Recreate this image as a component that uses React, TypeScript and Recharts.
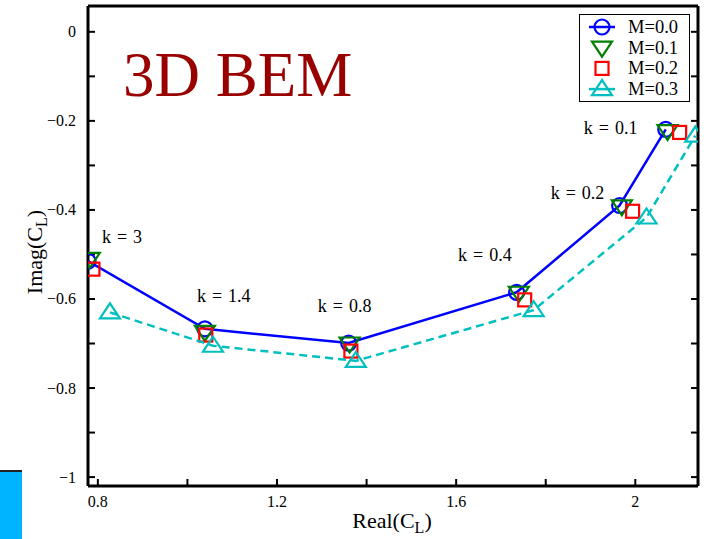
import React from 'react';
import { ComposedChart, Scatter, XAxis, YAxis } from 'recharts';

// ---- data ----
const kValues = ['3', '1.4', '0.8', '0.4', '0.2', '0.1'];
const m00Real = [0.778, 1.039, 1.360, 1.735, 1.965, 2.068];
const m00Imag = [-0.515, -0.667, -0.699, -0.585, -0.390, -0.219];
const m01Real = [0.782, 1.039, 1.362, 1.740, 1.970, 2.072];
const m01Imag = [-0.510, -0.674, -0.700, -0.586, -0.392, -0.223];
const m02Real = [0.789, 1.041, 1.365, 1.753, 1.994, 2.099];
const m02Imag = [-0.533, -0.681, -0.717, -0.602, -0.403, -0.226];
const m03Real = [0.827, 1.057, 1.376, 1.773, 2.025, 2.134];
const m03Imag = [-0.630, -0.705, -0.739, -0.625, -0.417, -0.233];
const kLabelReal = [0.854, 1.081, 1.351, 1.664, 1.871, 1.945];
const kLabelImag = [-0.461, -0.594, -0.616, -0.502, -0.361, -0.215];
const seriesNames = ['M=0.0', 'M=0.1', 'M=0.2', 'M=0.3'];
const xTicks = [0.8, 1.0, 1.2, 1.4, 1.6, 1.8, 2.0];
const yTicks = [0, -0.1, -0.2, -0.3, -0.4, -0.5, -0.6, -0.7, -0.8, -0.9, -1.0];
const xDomain = [0.778, 2.14];
const yDomain = [-1.02, 0.058];

const pts = (xs: number[], ys: number[]) => xs.map((x, i) => ({ x, y: ys[i] }));
const kPts = kLabelReal.map((x, i) => ({ x, y: kLabelImag[i], k: kValues[i] }));

const BLUE = '#0000ff';
const GREEN = '#008000';
const RED = '#ff0000';
const CYAN = '#00bfbf';
const FONT = '"Liberation Serif", "Times New Roman", serif';

const Circle = (color: string) => (p: any) => (
  <circle cx={p.cx} cy={p.cy} r={7.5} fill="none" stroke={color} strokeWidth={2.2} />
);
const DownTri = (color: string) => (p: any) => (
  <polygon
    points={`${p.cx - 10},${p.cy - 6} ${p.cx + 10},${p.cy - 6} ${p.cx},${p.cy + 9}`}
    fill="none" stroke={color} strokeWidth={2.2} />
);
const Square = (color: string) => (p: any) => (
  <rect x={p.cx - 6.5} y={p.cy - 6.5} width={13} height={13} fill="none" stroke={color} strokeWidth={2.2} />
);
const UpTri = (color: string) => (p: any) => (
  <polygon
    points={`${p.cx - 10},${p.cy + 6} ${p.cx + 10},${p.cy + 6} ${p.cx},${p.cy - 9}`}
    fill="none" stroke={color} strokeWidth={2.2} />
);
const KLabel = (p: any) => (
  <text x={p.cx} y={p.cy} textAnchor="middle" dominantBaseline="central"
    fontFamily={FONT} fontSize={18} wordSpacing={1.5} fill="#000">{`k = ${p.payload.k}`}</text>
);

const fmt = (v: number) => {
  const s = Math.abs(v - Math.round(v)) < 1e-9 ? String(Math.round(v)) : v.toFixed(1);
  return s.replace('-', '\u2212');
};

const XTick = (p: any) => {
  const v = p.payload.value;
  if (Math.round(v * 10) % 4 !== 0) return <g />;
  return (
    <text x={p.x} y={p.y} textAnchor="middle" dominantBaseline="central"
      fontFamily={FONT} fontSize={16} fill="#000">{fmt(v)}</text>
  );
};
const YTick = (p: any) => {
  const v = p.payload.value;
  if (Math.round(Math.abs(v) * 10) % 2 !== 0) return <g />;
  return (
    <text x={p.x} y={p.y} textAnchor="end" dominantBaseline="central"
      fontFamily={FONT} fontSize={16} fill="#000">{fmt(v)}</text>
  );
};
const NoTick = () => <g />;

const axisLine = { stroke: '#000', strokeWidth: 3 };
const tickLine = { stroke: '#000', strokeWidth: 2 };

const legendShapes = [Circle(BLUE), DownTri(GREEN), Square(RED), UpTri(CYAN)];
const legendColors = [BLUE, GREEN, RED, CYAN];
const legendHasLine = [true, false, false, true];

export default function App() {
  return (
    <div style={{ position: 'absolute', left: 0, top: 0, width: 707, height: 539, background: '#fff' }}>
      <ComposedChart width={707} height={539} margin={{ top: 5, right: 8, left: 28, bottom: 23 }}>
        <XAxis xAxisId="b" type="number" dataKey="x" domain={xDomain} ticks={xTicks} allowDataOverflow
          height={30} axisLine={axisLine} tickLine={tickLine} tickSize={-7} tickMargin={22} tick={XTick}
          interval={0} />
        <XAxis xAxisId="t" type="number" orientation="top" domain={xDomain} ticks={xTicks} allowDataOverflow
          height={1} axisLine={axisLine} tickLine={tickLine} tickSize={-7} tick={NoTick} interval={0} />
        <YAxis yAxisId="l" type="number" dataKey="y" domain={yDomain} ticks={yTicks} allowDataOverflow
          width={60} axisLine={axisLine} tickLine={tickLine} tickSize={-7} tickMargin={19} tick={YTick}
          interval={0} />
        <YAxis yAxisId="r" type="number" orientation="right" domain={yDomain} ticks={yTicks} allowDataOverflow
          width={1} axisLine={axisLine} tickLine={tickLine} tickSize={-7} tick={NoTick} interval={0} />
        <Scatter xAxisId="b" yAxisId="l" name={seriesNames[0]} data={pts(m00Real, m00Imag)}
          line={{ stroke: BLUE, strokeWidth: 2.5 }} lineType="joint" shape={Circle(BLUE)} isAnimationActive={false} />
        <Scatter xAxisId="b" yAxisId="l" name={seriesNames[1]} data={pts(m01Real, m01Imag)}
          shape={DownTri(GREEN)} isAnimationActive={false} />
        <Scatter xAxisId="b" yAxisId="l" name={seriesNames[2]} data={pts(m02Real, m02Imag)}
          shape={Square(RED)} isAnimationActive={false} />
        <Scatter xAxisId="b" yAxisId="l" name={seriesNames[3]} data={pts(m03Real, m03Imag)}
          line={{ stroke: CYAN, strokeWidth: 2.5, strokeDasharray: '8 5' }} lineType="joint"
          shape={UpTri(CYAN)} isAnimationActive={false} />
        <Scatter xAxisId="b" yAxisId="l" name="k" data={kPts} shape={KLabel} isAnimationActive={false} legendType="none" />
      </ComposedChart>
      <svg width={707} height={539} style={{ position: 'absolute', left: 0, top: 0, pointerEvents: 'none' }}>
        <text x={123} y={96} fontFamily={FONT} fontSize={63} fill="#990000">3D BEM</text>
        <text x={392} y={528} textAnchor="middle" fontFamily={FONT} fontSize={22} fill="#000">
          Real(C<tspan fontSize={16} dy={5}>L</tspan><tspan dy={-5}>)</tspan>
        </text>
        <text transform="translate(42,252) rotate(-90)" textAnchor="middle" fontFamily={FONT} fontSize={22} fill="#000">
          Imag(C<tspan fontSize={16} dy={5}>L</tspan><tspan dy={-5}>)</tspan>
        </text>
        <rect x={579.5} y={14.5} width={110} height={87} fill="#fff" stroke="#000" strokeWidth={1} />
        {seriesNames.map((name, i) => {
          const cy = 27 + i * 20.7;
          const Shape = legendShapes[i];
          return (
            <g key={name}>
              {legendHasLine[i] && (
                <line x1={589} x2={615} y1={cy} y2={cy} stroke={legendColors[i]} strokeWidth={2.5} />
              )}
              <Shape cx={602} cy={cy} />
              <text x={628} y={cy} dominantBaseline="central" fontFamily={FONT} fontSize={18.5} fill="#000">{name}</text>
            </g>
          );
        })}
      </svg>
      <div style={{ position: 'absolute', left: 0, top: 470, width: 22, height: 69, background: '#00b4ff', borderTop: '2px solid #222', boxSizing: 'border-box' }} />
    </div>
  );
}
